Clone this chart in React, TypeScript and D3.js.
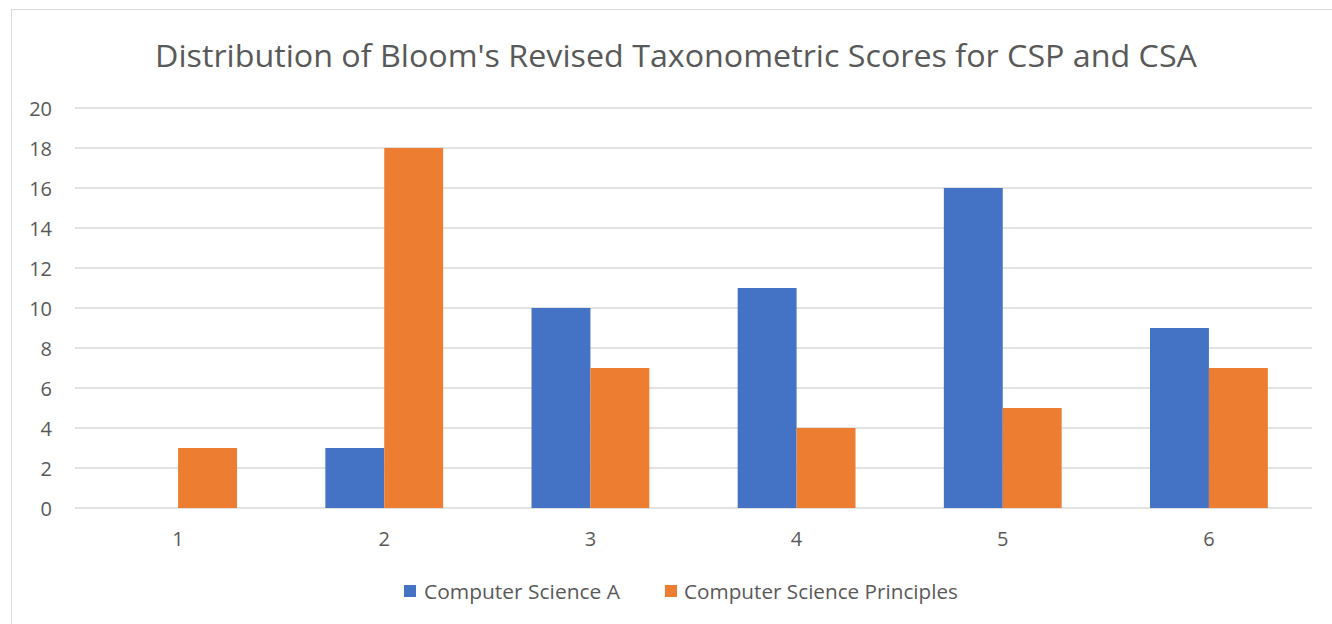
import React from 'react';
import * as d3 from 'd3';

const categories = ['1', '2', '3', '4', '5', '6'];
const csaValues = [0, 3, 10, 11, 16, 9];
const cspValues = [3, 18, 7, 4, 5, 7];
const seriesNames = ['Computer Science A', 'Computer Science Principles'];
const yTicks = [0, 2, 4, 6, 8, 10, 12, 14, 16, 18, 20];

const width = 1332;
const height = 624;
const colors = ['#4472c4', '#ed7d31'];
const font = '"Open Sans", sans-serif';

export default function App() {
  const left = 75;
  const right = 1312;
  const top = 108;
  const bottom = 508;

  const x = d3.scaleBand().domain(categories).range([left, right]).paddingInner(0).paddingOuter(0);
  const bw = x.bandwidth();
  const barW = bw / 3.5;
  const y = d3.scaleLinear().domain([0, 20]).range([bottom, top]);

  const series = [csaValues, cspValues];

  return (
    <div style={{ position: 'absolute', left: 0, top: 0 }}>
      <svg width={width} height={height} style={{ display: 'block' }}>
        <rect x={0} y={0} width={width} height={height} fill="#fff" />
        <rect x={11.5} y={9.5} width={width + 10} height={height + 10} fill="#fff" stroke="#d9d9d9" strokeWidth={1} />
        <text x={676} y={67} textAnchor="middle" fontFamily={font} fontSize={31} fill="#595959"
          textLength={1042} lengthAdjust="spacingAndGlyphs">
          Distribution of Bloom's Revised Taxonometric Scores for CSP and CSA
        </text>
        {yTicks.map((t) => (
          <g key={t}>
            <line x1={left} x2={right} y1={y(t)} y2={y(t)} stroke="#d9d9d9" strokeWidth={1.3} />
            <text x={52} y={y(t) + 7.5} textAnchor="end" fontFamily={font} fontSize={20} fill="#595959">{t}</text>
          </g>
        ))}
        {categories.map((c, i) => {
          const cx = (x(c) as number) + bw / 2;
          return (
            <g key={c}>
              {series.map((vals, s) => (
                vals[i] > 0 ? (
                  <rect key={s} x={cx - barW + s * barW} y={y(vals[i])} width={barW} height={bottom - y(vals[i])} fill={colors[s]} />
                ) : null
              ))}
              <text x={cx} y={546} textAnchor="middle" fontFamily={font} fontSize={20} fill="#595959">{c}</text>
            </g>
          );
        })}
        <rect x={404} y={585} width={12} height={12} fill={colors[0]} />
        <text x={424} y={599} fontFamily={font} fontSize={20.5} fill="#595959"
          textLength={196} lengthAdjust="spacingAndGlyphs">{seriesNames[0]}</text>
        <rect x={665} y={585} width={12} height={12} fill={colors[1]} />
        <text x={684} y={599} fontFamily={font} fontSize={20.5} fill="#595959"
          textLength={274} lengthAdjust="spacingAndGlyphs">{seriesNames[1]}</text>
      </svg>
    </div>
  );
}
